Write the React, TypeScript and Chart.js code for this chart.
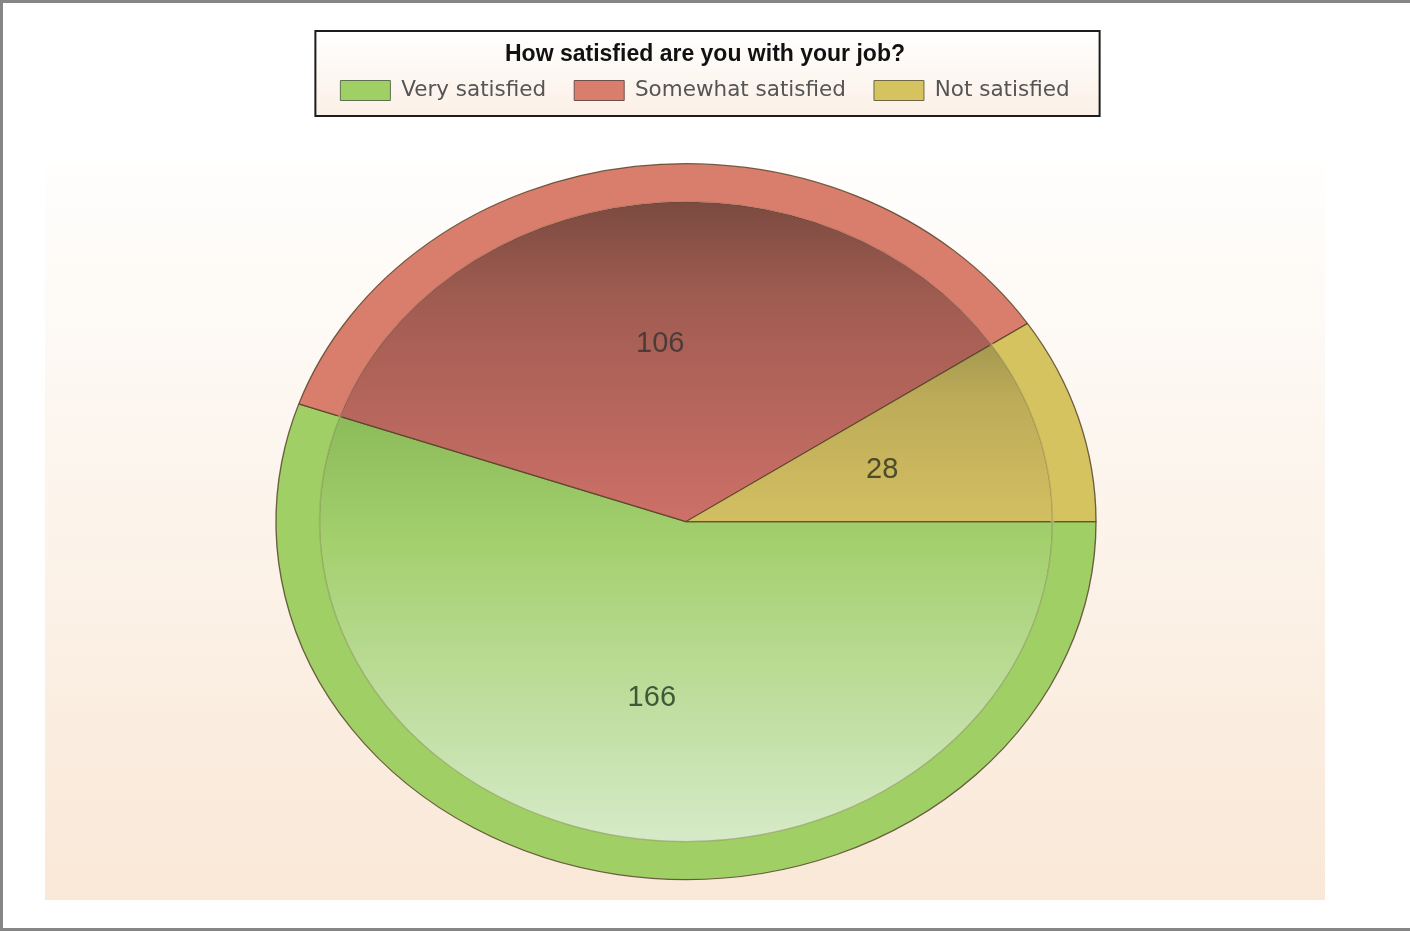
import React, { useEffect, useRef } from 'react';
import { Chart, registerables, layouts } from 'chart.js';

Chart.register(...registerables);

const chartTitle = 'How satisfied are you with your job?';
const categories = ['Very satisfied', 'Somewhat satisfied', 'Not satisfied'];
const responses = [166, 106, 28];

const rimColors = ['#a0cf66', '#d97d6c', '#d5c360'];
const innerTopColors = ['#8cbb5a', '#7b4a40', '#a59850'];
const innerMidColors = ['#a4d06e', '#a05c51', '#bcab58'];
const innerBottomColors = ['#d6eac8', '#cd7068', '#d3bf62'];
const legendBoxBorders = ['#5f7050', '#705048', '#6f6844'];
const labelColors = ['#3d5a37', '#4e3b37', '#4d4b28'];

const RADIUS = 358;
const RIM = 38;
const X_STRETCH = 410 / 358;
const PIE_SHIFT = 38;
const EDGE_DARK = 'rgba(80,62,35,0.8)';
const EDGE_SOFT = 'rgba(80,62,35,0.18)';

function pieCenter(chart: any) {
  const a = chart.chartArea;
  return { cx: (a.left + a.right) / 2, cy: (a.top + a.bottom) / 2 };
}

function innerFill(ctx: any) {
  const chart = ctx.chart;
  const area = chart.chartArea;
  const i = ctx.dataIndex ?? 0;
  if (!area) return rimColors[i];
  const { cy } = pieCenter(chart);
  const r = RADIUS - RIM;
  const total = responses.reduce((a, b) => a + b, 0);
  let start = 0;
  for (let k = 0; k < i; k++) start += (responses[k] / total) * 2 * Math.PI;
  const end = start + (responses[i] / total) * 2 * Math.PI;
  const ys = [cy, cy + r * Math.sin(start), cy + r * Math.sin(end)];
  for (const q of [Math.PI / 2, (3 * Math.PI) / 2]) {
    if (q > start && q < end) ys.push(cy + r * Math.sin(q));
  }
  const top = Math.min(...ys);
  const bottom = Math.max(...ys);
  const g = chart.ctx.createLinearGradient(0, top, 0, bottom);
  g.addColorStop(0, innerTopColors[i]);
  g.addColorStop(0.3, innerMidColors[i]);
  g.addColorStop(1, innerBottomColors[i]);
  return g;
}

function edgeStroke(isRim: boolean) {
  return (ctx: any) => {
    const chart = ctx.chart;
    if (!chart.chartArea) return EDGE_DARK;
    const { cx, cy } = pieCenter(chart);
    const outer = RADIUS + 3;
    const rIn = RADIUS - RIM;
    const g = chart.ctx.createRadialGradient(cx, cy, 0, cx, cy, outer);
    if (isRim) {
      g.addColorStop(0, EDGE_SOFT);
      g.addColorStop((rIn + 0.6) / outer, EDGE_SOFT);
      g.addColorStop((rIn + 2.5) / outer, EDGE_DARK);
      g.addColorStop(1, EDGE_DARK);
    } else {
      g.addColorStop(0, EDGE_DARK);
      g.addColorStop((rIn - 2.5) / outer, EDGE_DARK);
      g.addColorStop((rIn - 0.6) / outer, EDGE_SOFT);
      g.addColorStop(1, EDGE_SOFT);
    }
    return g;
  };
}

const spacerPlugin = {
  id: 'rightSpacer',
  beforeInit(chart: any) {
    layouts.addBox(chart, {
      position: 'right',
      fullSize: false,
      weight: 0,
      options: {},
      left: 0,
      top: 0,
      right: 0,
      bottom: 0,
      width: 0,
      height: 0,
      update(maxWidth: number, maxHeight: number) {
        this.width = PIE_SHIFT;
        this.height = maxHeight;
      },
      getPadding() {
        return { left: 0, right: 0, top: 0, bottom: 0 };
      },
      isHorizontal() {
        return false;
      },
      draw() {},
    } as any);
  },
};

const decorPlugin = {
  id: 'decor',
  beforeDraw(chart: any) {
    const ctx = chart.ctx;
    const area = chart.chartArea;
    ctx.save();
    ctx.fillStyle = '#ffffff';
    ctx.fillRect(0, 0, chart.width, chart.height);
    const pTop = 165;
    const pBottom = 900;
    const pg = ctx.createLinearGradient(0, pTop, 0, pBottom);
    pg.addColorStop(0, '#fffefd');
    pg.addColorStop(0.5, '#fcf3ea');
    pg.addColorStop(1, '#f9e8d7');
    ctx.fillStyle = pg;
    ctx.fillRect(area.left + 45, pTop, area.right - 47 - (area.left + 45), pBottom - pTop);
    const lg = chart.legend;
    if (lg && lg.legendHitBoxes && lg.legendHitBoxes.length) {
      const hb = lg.legendHitBoxes;
      const left = Math.min(...hb.map((h: any) => h.left)) - 25;
      const right = Math.max(...hb.map((h: any) => h.left + h.width)) + 30;
      const top = lg.top + 31;
      const bottom = lg.top + 116;
      const lgG = ctx.createLinearGradient(0, top, 0, bottom);
      lgG.addColorStop(0, '#ffffff');
      lgG.addColorStop(1, '#fbf0e6');
      ctx.fillStyle = lgG;
      ctx.fillRect(left, top, right - left, bottom - top);
      ctx.strokeStyle = '#1c1c1c';
      ctx.lineWidth = 2;
      ctx.strokeRect(left, top, right - left, bottom - top);
    }
    ctx.restore();
  },
  beforeDatasetsDraw(chart: any) {
    const ctx = chart.ctx;
    const arc = chart.getDatasetMeta(0).data[0];
    ctx.save();
    if (arc) {
      ctx.translate(arc.x, 0);
      ctx.scale(X_STRETCH, 1);
      ctx.translate(-arc.x, 0);
    }
  },
  afterDatasetsDraw(chart: any) {
    const ctx = chart.ctx;
    ctx.restore();
    const meta = chart.getDatasetMeta(0);
    ctx.save();
    ctx.font = '29px "Liberation Sans", Arial, sans-serif';
    ctx.textAlign = 'center';
    ctx.textBaseline = 'middle';
    meta.data.forEach((el: any, i: number) => {
      const p = el.getProps(['x', 'y', 'startAngle', 'endAngle', 'outerRadius'], true);
      const mid = (p.startAngle + p.endAngle) / 2;
      const rr = p.outerRadius * 0.5;
      const px = p.x + Math.cos(mid) * rr * X_STRETCH;
      const py = p.y + Math.sin(mid) * rr;
      ctx.fillStyle = labelColors[i];
      ctx.fillText(String(responses[i]), px, py);
    });
    ctx.restore();
  },
  afterDraw(chart: any) {
    const ctx = chart.ctx;
    ctx.save();
    ctx.strokeStyle = '#868686';
    ctx.lineWidth = 3;
    ctx.strokeRect(1.5, 1.5, chart.width + 20, chart.height - 4);
    ctx.restore();
  },
};

export default function App() {
  const canvasRef = useRef<HTMLCanvasElement | null>(null);

  useEffect(() => {
    if (!canvasRef.current) return;
    const chart = new Chart(canvasRef.current, {
      type: 'pie',
      data: {
        labels: categories,
        datasets: [
          {
            data: responses,
            backgroundColor: rimColors,
            borderColor: edgeStroke(true),
            borderWidth: 1.2,
            weight: RIM,
          } as any,
          {
            data: responses,
            backgroundColor: innerFill,
            borderColor: edgeStroke(false),
            borderWidth: 1.2,
            weight: RADIUS - RIM,
          } as any,
        ],
      },
      options: {
        responsive: false,
        animation: false,
        events: [],
        rotation: 90,
        radius: RADIUS,
        layout: { padding: 0 },
        plugins: {
          tooltip: { enabled: false },
          legend: {
            display: true,
            position: 'top',
            align: 'center',
            onClick: () => {},
            title: {
              display: true,
              text: chartTitle,
              color: '#111111',
              font: { family: 'Liberation Sans', size: 23, weight: 'bold', lineHeight: 1.2 },
              padding: { top: 43, bottom: -18.85 } as any,
            },
            labels: {
              boxWidth: 50,
              boxHeight: 20,
              padding: 28,
              color: '#555555',
              font: { family: 'DejaVu Sans', size: 21.5 },
              generateLabels: () =>
                categories.map((c, i) => ({
                  text: c,
                  fillStyle: rimColors[i],
                  strokeStyle: legendBoxBorders[i],
                  lineWidth: 1,
                  hidden: false,
                  index: i,
                  fontColor: '#555555',
                })),
            },
          },
        },
      } as any,
      plugins: [spacerPlugin, decorPlugin],
    });
    return () => chart.destroy();
  }, []);

  return (
    <div style={{ position: 'absolute', left: 0, top: 0, width: 1410, height: 932, background: '#fff' }}>
      <canvas ref={canvasRef} width={1410} height={932} style={{ display: 'block' }} />
    </div>
  );
}
